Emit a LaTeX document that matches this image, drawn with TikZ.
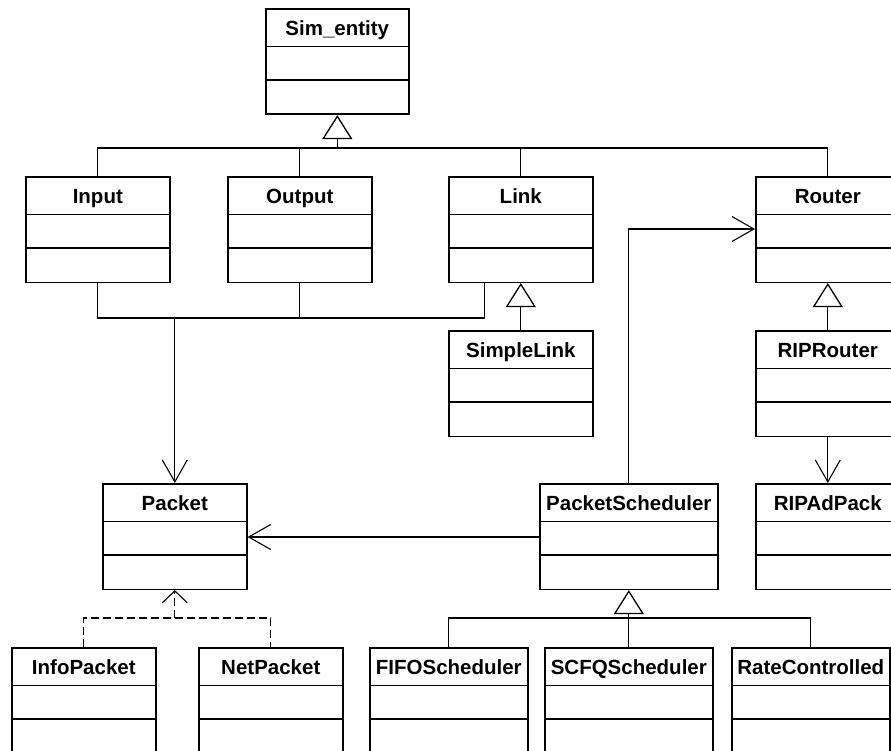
\documentclass[tikz,border=0pt]{standalone}
\usepackage{fontspec}
\setmainfont{Liberation Sans}
\usetikzlibrary{arrows.meta,calc}

% One UML class: name, left, top, width, title
\newcommand\umlclass[5]{%
  \node[clsbox, minimum width=#4pt, anchor=north west] (#1) at (#2,#3) {};
  \node[clstitle] (#1-title) at ($(#1.north)+(0,27.5)$) {#5};
  \draw[clsline] ($(#1.north west)+(0,38.5)$) -- ($(#1.north east)+(0,38.5)$);
  \draw[clsline] ($(#1.north west)+(0,72)$) -- ($(#1.north east)+(0,72)$);
}

\begin{document}
\begin{tikzpicture}[x=1pt, y=-1pt,
  clsbox/.style={draw, line width=1.6pt, minimum height=105.5pt, inner sep=0pt, fill=white},
  clsline/.style={line width=1.6pt},
  clstitle/.style={anchor=base, inner sep=0pt, font=\fontsize{20.5}{24}\selectfont\bfseries},
  conn/.style={line width=1.1pt},
  genarrow/.style={conn, -{Triangle[open, length=24pt, width=30pt, line width=1.3pt]}},
  assocarrow/.style={conn, -{Straight Barb[length=22pt, width=25pt, line width=1.1pt]}},
  realarrow/.style={conn, -{Straight Barb[length=12pt, width=25pt, line width=1.1pt]}},
  dep/.style={conn, dash pattern=on 8pt off 4pt}
]
\useasboundingbox (0,0) rectangle (891,751);
\clip (0,0) rectangle (891,751);

% classes
\umlclass{sim}{265}{8}{143}{Sim\_entity}
\umlclass{input}{25}{176}{144}{Input}
\umlclass{output}{227}{176}{144}{Output}
\umlclass{link}{448}{176}{144}{Link}
\umlclass{router}{755}{176}{144}{Router}
\umlclass{simplelink}{448}{330}{144}{SimpleLink}
\umlclass{riprouter}{755}{330}{144}{RIPRouter}
\umlclass{packet}{102}{483}{144}{Packet}
\umlclass{ps}{539}{483}{178}{PacketScheduler}
\umlclass{ripadpack}{755}{483}{144}{RIPAdPack}
\umlclass{info}{11}{647}{144}{InfoPacket}
\umlclass{net}{198}{647}{144}{NetPacket}
\umlclass{fifo}{369}{647}{158}{FIFOScheduler}
\umlclass{scfq}{544}{647}{168}{SCFQScheduler}
\umlclass{rate}{731}{647}{158}{RateControlled}

% junction levels
\coordinate (genbar) at (0,148);
\coordinate (assocbar) at (0,318);
\coordinate (psbar) at (0,618);
\coordinate (depbar) at (0,618);
\coordinate (linkfoot) at ($(link.south west)!0.25!(link.south east)$);

% inheritance from Sim_entity
\draw[conn] (input.north) |- (router.north |- genbar) -- (router.north);
\draw[conn] (output.north) -- (output.north |- genbar);
\draw[conn] (link.north) -- (link.north |- genbar);
\draw[genarrow] (sim.south |- genbar) -- (sim.south);

% single inheritance
\draw[genarrow] (simplelink.north) -- (link.south);
\draw[genarrow] (riprouter.north) -- (router.south);

% scheduler family
\draw[conn] (fifo.north) |- (rate.north |- psbar) -- (rate.north);
\draw[genarrow] (scfq.north) -- (ps.south);

% uses of Packet
\draw[conn] (input.south) |- (output.south |- assocbar) -- (output.south);
\draw[conn] (output.south |- assocbar) -| (linkfoot);
\draw[assocarrow] (packet.north |- assocbar) -- (packet.north);
\draw[assocarrow] ($(ps.north west)+(0,54)$) -- ($(packet.north east)+(0,54)$);

% scheduler to router, router to advert packet
\draw[assocarrow] (ps.north) |- ($(router.north west)+(0,53)$);
\draw[assocarrow] (riprouter.south) -- (ripadpack.north);

% packet realisations
\draw[dep] (info.north) |- (net.north |- depbar) -- (net.north);
\draw[dep, realarrow] (packet.south |- depbar) -- (packet.south);
\end{tikzpicture}
\end{document}
